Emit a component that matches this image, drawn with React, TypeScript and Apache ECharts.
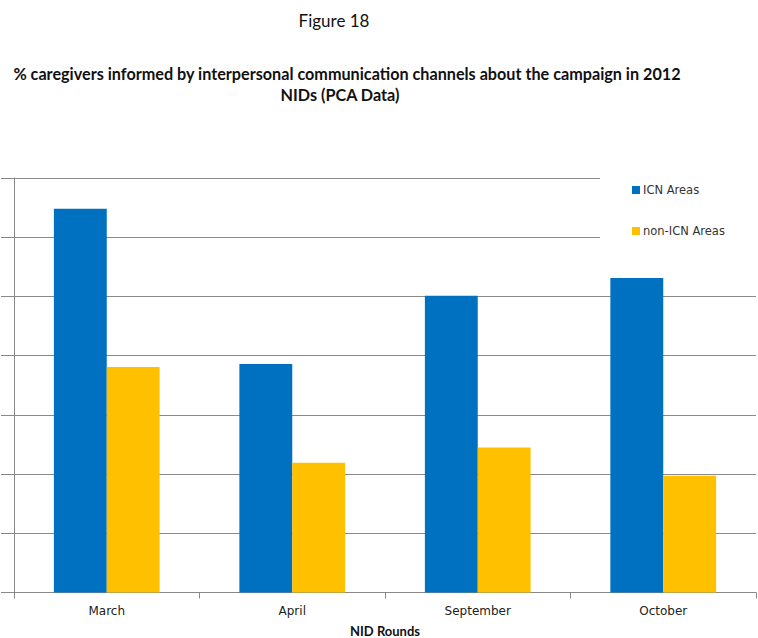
import React, { useEffect, useRef } from "react";
import * as echarts from "echarts";

const categories = ["March", "April", "September", "October"];
const icnAreas = [64.8, 38.6, 50.1, 53.1];
const nonIcnAreas = [38.1, 21.9, 24.5, 19.7];
const seriesNames = ["ICN Areas", "non-ICN Areas"];
const figureLabel = "Figure 18";
const titleLine1 =
  "% caregivers informed by interpersonal communication channels about the campaign in 2012";
const titleLine2 = "NIDs (PCA Data)";
const xAxisName = "NID Rounds";

const TITLE_FONT = "Lato, 'Open Sans', sans-serif";
const LABEL_FONT = "'DejaVu Sans', Verdana, sans-serif";

export default function App() {
  const ref = useRef<HTMLDivElement>(null);
  useEffect(() => {
    if (!ref.current) return;
    const chart = echarts.init(ref.current, undefined, { renderer: "svg" });
    chart.setOption({
      animation: false,
      backgroundColor: "#ffffff",
      graphic: [
        {
          type: "text",
          x: 334,
          y: 20,
          style: {
            text: figureLabel,
            textAlign: "center",
            textVerticalAlign: "middle",
            fontSize: 17,
            fontFamily: TITLE_FONT,
            fill: "#111",
          },
        },
        {
          type: "text",
          x: 347,
          y: 73,
          style: {
            text: titleLine1,
            textAlign: "center",
            textVerticalAlign: "middle",
            fontSize: 16.2,
            fontWeight: "bold",
            fontFamily: TITLE_FONT,
            fill: "#111",
          },
        },
        {
          type: "text",
          x: 340,
          y: 94,
          style: {
            text: titleLine2,
            textAlign: "center",
            textVerticalAlign: "middle",
            fontSize: 16.2,
            fontWeight: "bold",
            fontFamily: TITLE_FONT,
            fill: "#111",
          },
        },
      ],
      legend: {
        orient: "vertical",
        left: 600,
        top: 171,
        padding: [13, 60, 13, 32],
        backgroundColor: "#ffffff",
        itemWidth: 8,
        itemHeight: 8,
        itemGap: 29,
        icon: "rect",
        textStyle: { fontSize: 11.5, color: "#333", fontFamily: LABEL_FONT, padding: [0, 0, 0, -2] },
        data: seriesNames,
        z: 10,
      },
      grid: {
        left: 14,
        right: 2,
        top: 178,
        bottom: 45.5,
        containLabel: false,
        outerBoundsMode: "none",
      },
      xAxis: {
        type: "category",
        data: categories,
        name: xAxisName,
        nameLocation: "middle",
        nameGap: 32,
        nameTextStyle: {
          fontSize: 13,
          lineHeight: 12,
          fontWeight: "bold",
          color: "#111",
          fontFamily: TITLE_FONT,
        },
        axisLine: { lineStyle: { color: "#888", width: 1 } },
        axisTick: { show: true, length: 6, lineStyle: { color: "#888" } },
        axisLabel: { fontSize: 12, color: "#222", margin: 12, fontFamily: LABEL_FONT },
      },
      yAxis: {
        type: "value",
        min: 0,
        max: 70,
        interval: 10,
        axisLine: { show: true, lineStyle: { color: "#888", width: 1 } },
        axisTick: { show: true, length: 13, lineStyle: { color: "#888" } },
        axisLabel: { show: false },
        splitLine: { show: true, lineStyle: { color: "#8a8a8a", width: 1 } },
      },
      series: [
        {
          name: seriesNames[0],
          type: "bar",
          data: icnAreas,
          itemStyle: { color: "#0070C0" },
          barGap: "0%",
          barCategoryGap: "43%",
        },
        {
          name: seriesNames[1],
          type: "bar",
          data: nonIcnAreas,
          itemStyle: { color: "#FFC000" },
          barGap: "0%",
          barCategoryGap: "43%",
        },
      ],
    });
    return () => chart.dispose();
  }, []);
  return <div ref={ref} style={{ width: 758, height: 638, position: "absolute", left: 0, top: 0 }} />;
}
